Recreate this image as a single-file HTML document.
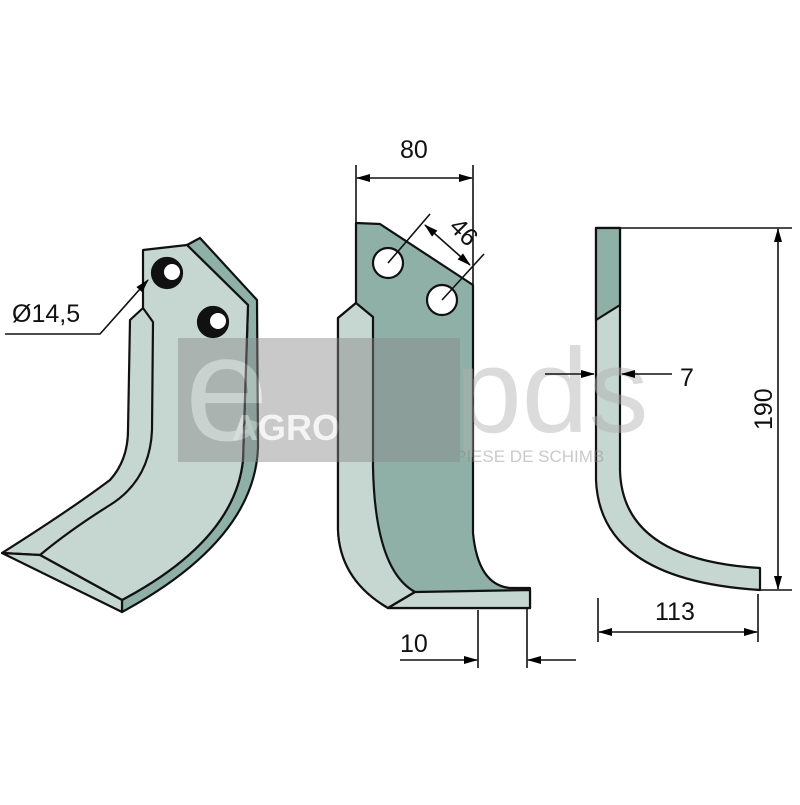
<!DOCTYPE html>
<html><head><style>html,body{margin:0;padding:0;background:#fff}</style></head><body>
<svg width="800" height="800" viewBox="0 0 800 800" xmlns="http://www.w3.org/2000/svg" font-family="Liberation Sans, sans-serif">
<defs><marker id="a" markerWidth="14" markerHeight="8" refX="13" refY="4" orient="auto-start-reverse" markerUnits="userSpaceOnUse"><path d="M0,0 L14,4 L0,8 Z" fill="#000"/></marker></defs>
<g stroke="#111" stroke-width="2.2" stroke-linejoin="round">
<path d="M200,238 L257,300 L258,447 Q255,540 122,612 L122,600 Q235,540 243,460 L248,305 L187,245 Z" fill="#8fb0a6"/>
<path d="M143,250 L187,245 L248,305 L243,460 Q235,540 122,600 L40,555 L2,553 Q70,510 110,480 Q128,460 128,430 L130,320 L143,308 Z" fill="#c6d6d1"/>
<path d="M2,553 L40,555 L122,600 L122,612 Z" fill="#c6d6d1"/>
<path d="M143,308 L153,322 L152,430 Q150,480 110,505 Q70,530 40,555" fill="none"/>
<circle cx="167" cy="273" r="15" fill="#111"/><circle cx="172" cy="272" r="8" fill="#fff" stroke="none"/>
<circle cx="213" cy="322" r="15" fill="#111"/><circle cx="218" cy="321" r="8" fill="#fff" stroke="none"/>
<path d="M356,223 L380,224 L473,285 L473,533 Q478,585 510,588 L530,588 L530,608 L388,608 Q340,580 338,530 L338,318 L356,303 Z" fill="#8fb0a6"/>
<path d="M338,318 L356,303 L373,317 L373,467 Q375,570 415,592 L388,608 Q340,580 338,530 Z" fill="#c6d6d1"/>
<path d="M415,592 L530,590 L530,608 L388,608 Z" fill="#c6d6d1"/>
<circle cx="388" cy="263" r="15" fill="#fff"/><circle cx="442" cy="300" r="15" fill="#fff"/>
<path d="M596,228 L620,228 L620,470 Q622,560 760,568 L760,590 Q600,580 596,480 Z" fill="#c6d6d1"/>
<path d="M596,228 L620,228 L620,305 L596,320 Z" fill="#8fb0a6"/>
</g>
<g opacity="0.45">
<rect x="178" y="338" width="282" height="124" fill="#8a8a8a"/>
<text x="185" y="440" font-size="150" fill="#cfcfcf">e</text>
<text x="232" y="440" font-size="36" font-weight="bold" fill="#e8e8e8">AGRO</text>
<text x="455" y="432" font-size="120" fill="#b0b0b0">pds</text>
<text x="455" y="462" font-size="17" fill="#8a8a8a">PIESE DE SCHIMB</text>
</g>
<g stroke="#111" stroke-width="1.6" fill="none">
<line x1="356" y1="165" x2="356" y2="223"/><line x1="473" y1="165" x2="473" y2="285"/>
<line x1="357" y1="178" x2="472" y2="178" marker-end="url(#a)" marker-start="url(#a)"/>
<line x1="388" y1="263" x2="430" y2="214"/><line x1="442" y1="300" x2="484" y2="254"/>
<line x1="425" y1="225" x2="470" y2="265" marker-end="url(#a)" marker-start="url(#a)"/>
<line x1="478" y1="610" x2="478" y2="668"/><line x1="527" y1="608" x2="527" y2="668"/>
<line x1="400" y1="660" x2="477" y2="660" marker-end="url(#a)"/>
<line x1="576" y1="660" x2="528" y2="660" marker-end="url(#a)"/>
<line x1="545" y1="374" x2="594" y2="374" marker-end="url(#a)"/>
<line x1="672" y1="374" x2="622" y2="374" marker-end="url(#a)"/>
<line x1="620" y1="228" x2="792" y2="228"/><line x1="760" y1="590" x2="792" y2="590"/>
<line x1="778" y1="229" x2="778" y2="589" marker-end="url(#a)" marker-start="url(#a)"/>
<line x1="598" y1="598" x2="598" y2="642"/><line x1="758" y1="594" x2="758" y2="642"/>
<line x1="599" y1="632" x2="757" y2="632" marker-end="url(#a)" marker-start="url(#a)"/>
<polyline points="5,334 100,334 148,280" marker-end="url(#a)"/>
</g>
<g font-size="25" fill="#111">
<text x="400" y="158">80</text>
<text x="0" y="0" transform="translate(448,228) rotate(45)">46</text>
<text x="400" y="652">10</text>
<text x="680" y="386">7</text>
<text x="0" y="0" transform="translate(772,430) rotate(-90)">190</text>
<text x="655" y="620">113</text>
<text x="12" y="322">Ø14,5</text>
</g>
</svg>
</body></html>
